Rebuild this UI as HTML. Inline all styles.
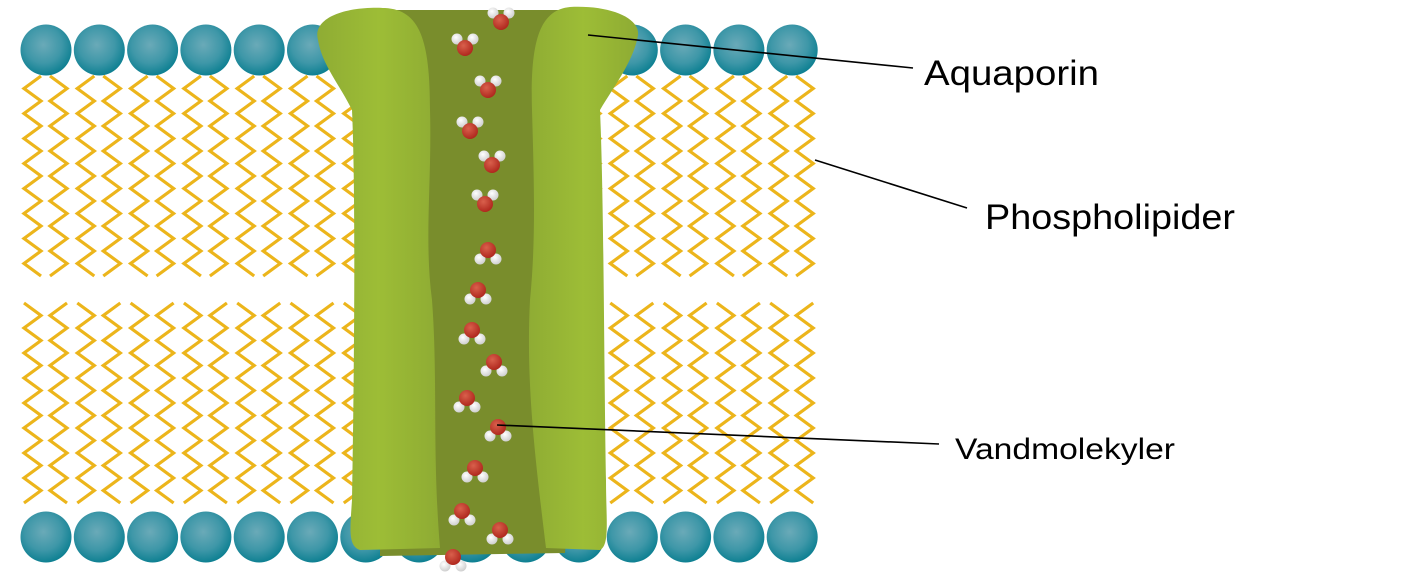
<!DOCTYPE html>
<html><head><meta charset="utf-8"><style>
html,body{margin:0;padding:0;background:#fff;width:1418px;height:579px;overflow:hidden}
svg{display:block}
text{font-family:"Liberation Sans",sans-serif;fill:#000}
</style></head><body>
<svg id="s" width="1418" height="579" viewBox="0 0 1418 579" xmlns="http://www.w3.org/2000/svg">
<defs>
<radialGradient id="hg" cx="0.45" cy="0.4" r="0.6">
<stop offset="0" stop-color="#6aaab8"/><stop offset="0.6" stop-color="#3e97a8"/><stop offset="1" stop-color="#0e8092"/>
</radialGradient>
<radialGradient id="og" cx="0.4" cy="0.35" r="0.65">
<stop offset="0" stop-color="#d9604c"/><stop offset="1" stop-color="#b0281e"/>
</radialGradient>
<radialGradient id="wg" cx="0.4" cy="0.35" r="0.65">
<stop offset="0" stop-color="#ffffff"/><stop offset="1" stop-color="#cfcfcf"/>
</radialGradient>
<linearGradient id="lg" x1="0" y1="0" x2="1" y2="0">
<stop offset="0" stop-color="#8fac34"/><stop offset="0.5" stop-color="#9dbd36"/><stop offset="1" stop-color="#8eab33"/>
</linearGradient>
</defs>
<g id="lip"></g>
<g id="prot">
<path d="M380 10 L590 10 L585 300 L565 553 L380 556 Z" fill="#798d2c"/>
<path d="M318 40 C312 18 345 6 385 8 C420 10 430 40 430 110 C432 180 424 240 432 300 C438 380 432 450 440 548 L360 550 C348 546 350 530 352 500 C354 380 356 200 352 110 C340 85 322 65 318 40 Z" fill="url(#lg)"/>
<path d="M638 35 C640 18 610 5 570 7 C540 10 530 40 532 110 C534 180 536 240 530 300 C526 380 534 450 546 548 L600 550 C610 545 606 520 606 480 C604 380 604 200 600 110 C615 85 634 60 638 35 Z" fill="url(#lg)"/>
</g>
<g id="wat"></g>
<g stroke="#000" stroke-width="1.6" fill="none">
<line x1="588" y1="35" x2="913" y2="68"/>
<line x1="815" y1="160" x2="967" y2="208"/>
<line x1="497" y1="425" x2="939" y2="444"/>
</g>
<text x="924" y="85" font-size="35" textLength="175" lengthAdjust="spacingAndGlyphs">Aquaporin</text>
<text x="985" y="229" font-size="35" textLength="250" lengthAdjust="spacingAndGlyphs">Phospholipider</text>
<text x="955" y="459" font-size="30" textLength="220" lengthAdjust="spacingAndGlyphs">Vandmolekyler</text>
</svg>
<script>
var NS="http://www.w3.org/2000/svg";
function el(p,t,a){var e=document.createElementNS(NS,t);for(var k in a)e.setAttribute(k,a[k]);p.appendChild(e);return e;}
var lip=document.getElementById("lip");
function zig(x0,x1,y0,y1,startLeft){var pts=[],i=0;for(var y=y0;y<=y1+0.1;y+=12.5){var l=(i%2==0)==startLeft;pts.push((l?x0:x1)+","+y);i++;}return pts.join(" ");}
for(var k=0;k<15;k++){
 var cx=46+53.3*k;
 // top tails
 el(lip,"polyline",{points:zig(cx-22,cx-5,76,285,false),fill:"none",stroke:"#ecb51b","stroke-width":3.2});
 el(lip,"polyline",{points:zig(cx+4,cx+21,76,285,true),fill:"none",stroke:"#ecb51b","stroke-width":3.2});
 el(lip,"polyline",{points:zig(cx-22,cx-5,303,512,true),fill:"none",stroke:"#ecb51b","stroke-width":3.2});
 el(lip,"polyline",{points:zig(cx+4,cx+21,303,512,false),fill:"none",stroke:"#ecb51b","stroke-width":3.2});
 el(lip,"circle",{cx:cx,cy:50,r:25.5,fill:"url(#hg)"});
 el(lip,"circle",{cx:cx,cy:537,r:25.5,fill:"url(#hg)"});
}
var wat=document.getElementById("wat");
var W=[[501,22,-1],[465,48,-1],[488,90,-1],[470,131,-1],[492,165,-1],[485,204,-1],[488,250,1],[478,290,1],[472,330,1],[494,362,1],[467,398,1],[498,427,1],[475,468,1],[462,511,1],[500,530,1],[453,557,1]];
W.forEach(function(w){var x=w[0],y=w[1],d=w[2];
 el(wat,"circle",{cx:x-8,cy:y+d*9,r:5.5,fill:"url(#wg)"});
 el(wat,"circle",{cx:x+8,cy:y+d*9,r:5.5,fill:"url(#wg)"});
 el(wat,"circle",{cx:x,cy:y,r:8,fill:"url(#og)"});
});
</script>
</body></html>
